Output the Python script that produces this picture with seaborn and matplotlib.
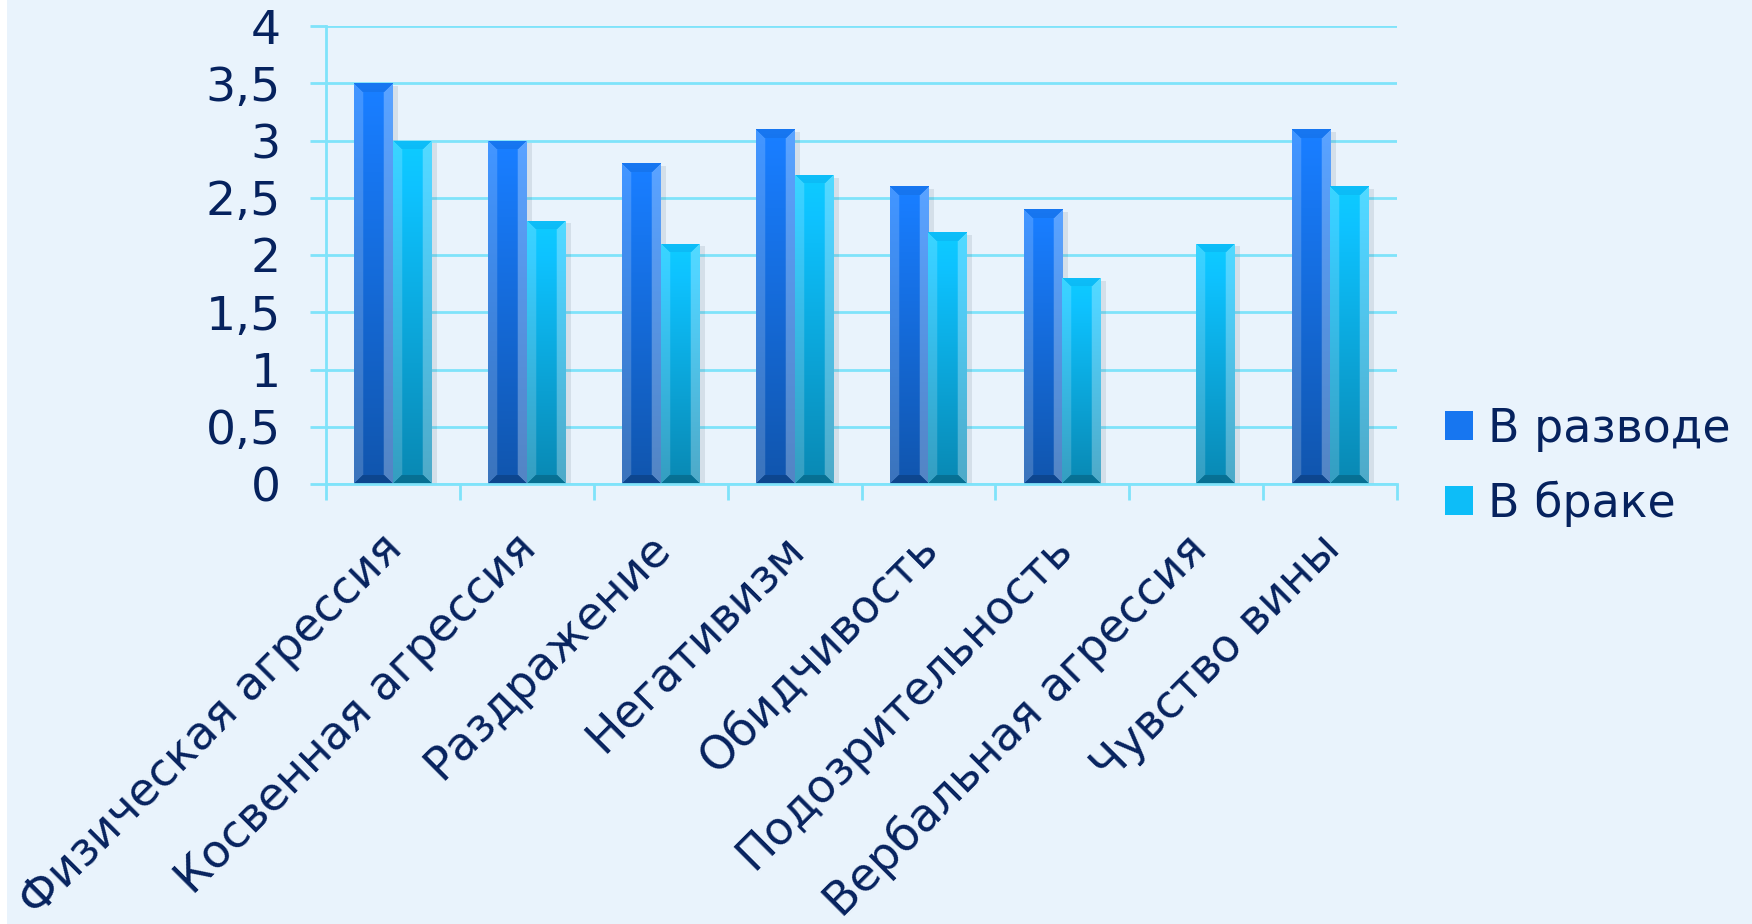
import numpy as np
import pandas as pd
import matplotlib
matplotlib.use("Agg")
import matplotlib.pyplot as plt
import matplotlib.transforms as mtransforms
import matplotlib.patheffects as pe
from matplotlib.patches import Rectangle, Patch
import seaborn as sns

# ---- data ----
categories = ["Физическая агрессия", "Косвенная агрессия", "Раздражение", "Негативизм",
              "Обидчивость", "Подозрительность", "Вербальная агрессия", "Чувство вины"]
divorced = [3.5, 3.0, 2.8, 3.1, 2.6, 2.4, np.nan, 3.1]
married = [3.0, 2.3, 2.1, 2.7, 2.2, 1.8, 2.1, 2.6]
series_names = ["В разводе", "В браке"]
y_ticks = [0, 0.5, 1, 1.5, 2, 2.5, 3, 3.5, 4]
y_tick_labels = ["0", "0,5", "1", "1,5", "2", "2,5", "3", "3,5", "4"]

df = pd.DataFrame({
    "category": categories * 2,
    "value": divorced + married,
    "series": [series_names[0]] * len(categories) + [series_names[1]] * len(categories),
})

BG = "#E9F3FC"
GRID = "#7FE3FA"
TEXT = "#06225E"
colors = {"В разводе": "#1776F0", "В браке": "#0DBDF8"}

sns.set_theme(style="white")
plt.rcParams['font.family'] = ['DejaVu Sans']

W, H, DPI = 1752, 924, 100
AX_L, AX_R, AX_T, AX_B = 326, 1397, 26, 484
fig = plt.figure(figsize=(W / DPI, H / DPI), dpi=DPI, facecolor="white")
fig.patches.append(Rectangle((7 / W, 0), 1, 1, transform=fig.transFigure,
                             facecolor=BG, edgecolor='none', zorder=-10))
ax = fig.add_axes([AX_L / W, 1 - AX_B / H, (AX_R - AX_L) / W, (AX_B - AX_T) / H])
ax.set_facecolor("none")

sns.barplot(data=df, x="category", y="value", hue="series", hue_order=series_names,
            order=categories, palette=colors, width=0.575, ax=ax, errorbar=None,
            legend=False, saturation=1, linewidth=0)


def bevel_img(hexcol, n_v, n_h, b=9):
    base = np.array(matplotlib.colors.to_rgb(hexcol))
    i = np.arange(n_v)[:, None] * np.ones((1, n_h))
    j = np.arange(n_h)[None, :] * np.ones((n_v, 1))
    v = (i / max(n_v - 1, 1))
    bright = 1.08 - 0.36 * v
    rgb = base[None, None, :] * bright[..., None]
    d_top, d_bot = i, n_v - 1 - i
    d_left, d_right = j, n_h - 1 - j
    dmin = np.minimum.reduce([d_top, d_bot, d_left, d_right])
    in_bevel = dmin < b
    white = np.ones(3)
    out = rgb.copy()
    # left facet lighter
    m = in_bevel & (d_left == dmin)
    out[m] = rgb[m] + (white - rgb[m]) * 0.18
    m = in_bevel & (d_right == dmin)
    out[m] = rgb[m] + (white - rgb[m]) * 0.28
    m = in_bevel & (d_top == dmin)
    out[m] = rgb[m] * 0.93
    m = in_bevel & (d_bot == dmin)
    out[m] = rgb[m] * 0.82
    out = np.clip(out, 0, 1)
    return np.concatenate([out, np.ones((n_v, n_h, 1))], axis=2)


px_per_unit = (AX_B - AX_T) / 4.0
px_per_cat = (AX_R - AX_L) / len(categories)
for p in list(ax.patches):
    hgt = p.get_height()
    if hgt is None or not np.isfinite(hgt) or hgt <= 0:
        continue
    fc = matplotlib.colors.to_hex(p.get_facecolor())
    p.set_path_effects([pe.SimplePatchShadow(offset=(4, -2), alpha=0.12, shadow_rgbFace='#445566'),
                        pe.Normal()])
    x0 = p.get_x()
    n_v = max(int(round(hgt * px_per_unit)), 20)
    n_h = max(int(round(p.get_width() * px_per_cat)), 10)
    im = ax.imshow(bevel_img(fc, n_v, n_h), extent=[x0, x0 + p.get_width(), 0, hgt],
                   aspect='auto', origin='upper', zorder=p.get_zorder() + 0.1,
                   interpolation='bilinear')
    im.set_clip_path(p)

ax.set_xlim(-0.5, len(categories) - 0.5)
ax.set_ylim(0, 4)
ax.set_xlabel("")
ax.set_ylabel("")
ax.set_yticks(y_ticks, y_tick_labels)
ax.grid(axis='y', color=GRID, lw=2)
ax.set_axisbelow(True)
for s in ["top", "right"]:
    ax.spines[s].set_visible(False)
for s in ["left", "bottom"]:
    ax.spines[s].set_color(GRID)
    ax.spines[s].set_linewidth(2)

ax.tick_params(axis='y', length=11.5, width=2, color=GRID, labelsize=34,
               labelcolor=TEXT, pad=21, left=True)
ax.set_xticks(np.arange(-0.5, len(categories), 1), minor=True)
ax.tick_params(axis='x', which='minor', length=11.5, width=2, color=GRID, bottom=True)
ax.set_xticks(range(len(categories)), categories)
ax.tick_params(axis='x', which='major', length=0, labelsize=33, labelcolor=TEXT, pad=30)
offset = mtransforms.ScaledTranslation(-13 / DPI, 0, fig.dpi_scale_trans)
for lab in ax.get_xticklabels():
    lab.set_rotation(45)
    lab.set_ha('right')
    lab.set_va('top')
    lab.set_rotation_mode('anchor')
    lab.set_transform(lab.get_transform() + offset)

handles = [Patch(facecolor=colors[s], edgecolor='none') for s in series_names]
fig.legend(handles, series_names, loc='center left',
           bbox_to_anchor=(1445 / W, 1 - 467 / H), frameon=False, fontsize=33,
           handlelength=0.6, handleheight=0.6, handletextpad=0.33, labelspacing=0.62,
           borderpad=0, borderaxespad=0, labelcolor=TEXT)

fig.savefig("out.png", dpi=DPI, facecolor=fig.get_facecolor())
